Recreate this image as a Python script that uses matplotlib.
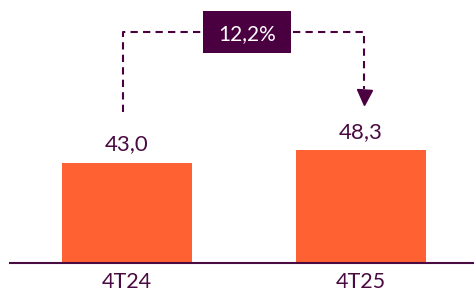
import matplotlib
matplotlib.use("Agg")
import matplotlib.pyplot as plt
from matplotlib.patches import Rectangle

categories = ["4T24", "4T25"]
values = [43.0, 48.3]
value_labels = ["43,0", "48,3"]
growth_label = "12,2%"

BAR = "#ff6133"
PURPLE = "#4a0a42"
BOX = "#4a0040"

plt.rcParams['font.family'] = ['Lato', 'DejaVu Sans']

fig = plt.figure(figsize=(4.74, 2.92), dpi=100)
ax = fig.add_axes([10/474, (292-262.5)/292, 464/474, 262.5/292])
ax.set_xlim(-0.5, 1.483)
ax.set_ylim(0, 113.1)

x = list(range(len(categories)))
ax.bar(x, values, width=0.556, color=BAR, zorder=2)
for xi, v, lab in zip(x, values, value_labels):
    ax.annotate(lab, (xi, v), xytext=(0, 9), textcoords="offset points",
                ha="center", va="baseline", fontsize=16, color=PURPLE)

for s in ["top", "left", "right"]:
    ax.spines[s].set_visible(False)
ax.spines["bottom"].set_color(PURPLE)
ax.spines["bottom"].set_linewidth(1.5)
ax.spines["bottom"].set_zorder(3)
ax.set_yticks([])
ax.set_xticks(x)
ax.set_xticklabels(categories, fontsize=15.5, color=PURPLE)
ax.tick_params(axis="x", length=0, pad=7)

# growth bracket
yh = 99.4
ls = (0, (3.5, 2.5))
ax.plot([-0.018, -0.018, 1.013, 1.013], [64.8, yh, yh, 74.8],
        color=BOX, lw=1.5, linestyle=ls, zorder=1, clip_on=False)
ax.plot([1.013], [71.5], marker="v", markersize=10.8, color=BOX,
        linestyle="none", clip_on=False, zorder=4)
ax.add_patch(Rectangle((0.325, 90.4), 0.375, 18.0, facecolor=BOX,
                       edgecolor="none", zorder=5, clip_on=False))
ax.text(0.5125, yh, growth_label, ha="center", va="center_baseline",
        fontsize=15, color="white", zorder=6)

fig.savefig("out.png", dpi=100)
